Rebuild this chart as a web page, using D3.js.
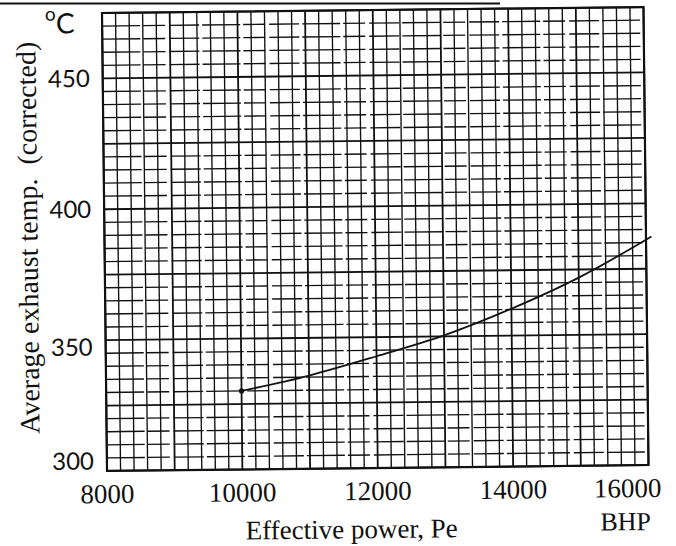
<!DOCTYPE html>
<html>
<head>
<meta charset="utf-8">
<script src="https://cdn.jsdelivr.net/npm/d3@7"></script>
<style>
  html, body { margin: 0; padding: 0; background: #fff; }
  svg { display: block; }
</style>
</head>
<body>
<div id="chart"></div>
<script>
// Average exhaust temperature (corrected) versus effective power
const powerBHP      = [10000, 11000, 12000, 13000, 14000, 15000, 16000, 16080];
const exhaustTempC  = [330, 335.6, 342.7, 350.4, 360.3, 371.9, 386.1, 387.3];
const xTickValues   = [8000, 10000, 12000, 14000, 16000];
const yTickValues   = [300, 350, 400, 450];
const xDomain       = [8000, 16000];
const yDomain       = [300, 475];

const width = 676, height = 546;
const W = 541.5, H = 458;

const svg = d3.select("#chart").append("svg")
  .attr("width", width).attr("height", height)
  .attr("viewBox", `0 0 ${width} ${height}`);

svg.append("rect").attr("width", width).attr("height", height).attr("fill", "#fff");

// ruled line along the top of the sheet
svg.append("line")
  .attr("x1", 0).attr("x2", 500).attr("y1", 3.5).attr("y2", 3.5)
  .attr("stroke", "#111").attr("stroke-width", 2);

// the whole sheet sits at a slight tilt
const g = svg.append("g").attr("transform", "translate(102,13) rotate(-0.63)");

const x = d3.scaleLinear().domain(xDomain).range([0, W]);
const y = d3.scaleLinear().domain(yDomain).range([H, 0]);

// graph-paper grid
const grid = g.append("g").attr("stroke", "#111").attr("fill", "none");

grid.selectAll("line.v")
  .data(d3.range(xDomain[0], xDomain[1] + 1, 200))
  .join("line").attr("class", "v")
  .attr("x1", d => x(d)).attr("x2", d => x(d))
  .attr("y1", 0).attr("y2", H)
  .attr("stroke-width", d => d % 1000 === 0 ? 1.8 : 1.35);

grid.selectAll("line.h")
  .data(d3.range(yDomain[0], yDomain[1] + 1, 5))
  .join("line").attr("class", "h")
  .attr("x1", 0).attr("x2", W)
  .attr("y1", d => y(d)).attr("y2", d => y(d))
  .attr("stroke-width", d => d % 25 === 0 ? 1.8 : 1.35)
  .attr("stroke-dasharray", d => d % 25 === 0 ? null : "38 3 22 4 30 3");

// outer frame
g.append("rect")
  .attr("x", 0).attr("y", 0).attr("width", W).attr("height", H)
  .attr("fill", "none").attr("stroke", "#111").attr("stroke-width", 2.2);

// curve
const pts = powerBHP.map((p, i) => [p, exhaustTempC[i]]);
g.append("path")
  .datum(pts)
  .attr("fill", "none").attr("stroke", "#111").attr("stroke-width", 1.8)
  .attr("d", d3.line().x(d => x(d[0])).y(d => y(d[1])).curve(d3.curveMonotoneX));

g.append("circle")
  .attr("cx", x(powerBHP[0])).attr("cy", y(exhaustTempC[0]))
  .attr("r", 2.6).attr("fill", "#111");

const serif = "'Liberation Serif', 'Times New Roman', serif";
const sans = "Lato, 'Noto Sans', sans-serif";

// x tick labels
g.selectAll("text.xt")
  .data(xTickValues)
  .join("text").attr("class", "xt")
  .attr("x", d => x(d) + (d === xDomain[1] ? -21 : 0))
  .attr("y", H + 32)
  .attr("text-anchor", "middle")
  .attr("font-family", serif).attr("font-size", 27).attr("fill", "#111")
  .text(d => d);

// y tick labels (hand-lettered, so a few sit a little off their lines)
const yLabelShift = { 300: -10, 350: 7 };
g.selectAll("text.yt")
  .data(yTickValues)
  .join("text").attr("class", "yt")
  .attr("x", -13)
  .attr("y", d => y(d) + (yLabelShift[d] || 0))
  .attr("dy", "0.35em")
  .attr("text-anchor", "end")
  .attr("font-family", sans)
  .attr("font-size", 24).attr("fill", "#111")
  .text(d => d);

// unit of the y axis
const unit = g.append("text")
  .attr("x", -57).attr("y", 20)
  .attr("font-family", sans).attr("fill", "#111");
unit.append("tspan").attr("font-size", 19).attr("dy", -13).text("o");
unit.append("tspan").attr("font-size", 28).attr("dy", 13).text("C");

// axis titles
g.append("text")
  .attr("x", 244).attr("y", H + 70)
  .attr("text-anchor", "middle")
  .attr("font-family", serif).attr("font-size", 27).attr("fill", "#111")
  .text("Effective power, Pe");

g.append("text")
  .attr("x", 518).attr("y", H + 65)
  .attr("text-anchor", "middle")
  .attr("font-family", serif).attr("font-size", 26).attr("fill", "#111")
  .text("BHP");

g.append("text")
  .attr("transform", `translate(-67, 224) rotate(-90)`)
  .attr("text-anchor", "middle")
  .attr("font-family", serif).attr("font-size", 28).attr("fill", "#111")
  .attr("xml:space", "preserve")
  .text("Average exhaust temp.  (corrected)");
</script>
</body>
</html>
